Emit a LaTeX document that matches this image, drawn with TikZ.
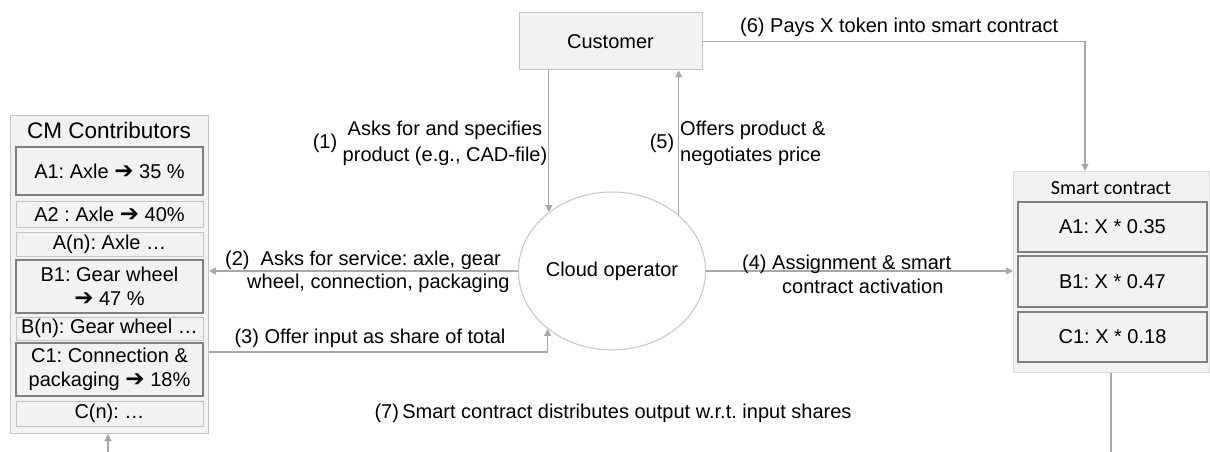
\documentclass[tikz,border=0pt]{standalone}
\usepackage{fontspec}
\setmainfont{Liberation Sans}
\newfontfamily\dejavu{DejaVu Sans}
\newfontfamily\carlito{Carlito}
\usetikzlibrary{arrows.meta,shapes.geometric}
\definecolor{boxfill}{HTML}{F2F2F2}
\definecolor{thinb}{HTML}{C4C4C4}
\definecolor{lightb}{HTML}{DADADA}
\definecolor{thickb}{HTML}{808080}
\definecolor{linec}{HTML}{A8A8A8}
\newcommand{\harr}{{\dejavu\fontsize{23}{23}\selectfont ➔}}
\tikzset{
  every node/.append style={execute at begin node=\frenchspacing},
  outerbox/.style={draw=thinb, fill=boxfill, line width=1pt, inner sep=0pt, anchor=north west},
  thickbox/.style={draw=thickb, fill=boxfill, line width=2pt, inner sep=0pt, align=center,
     font=\fontsize{20}{23.5}\selectfont},
  thinbox/.style={draw=thinb, fill=boxfill, line width=1pt, inner sep=0pt, align=center,
     font=\fontsize{20}{23.5}\selectfont},
  lbl/.style={font=\fontsize{20}{26}\selectfont, inner sep=0pt},
  arr/.style={draw=linec, line width=1.2pt, -{Triangle[length=7pt,width=7pt]}},
  plain/.style={draw=linec, line width=1.2pt},
}
\begin{document}
\frenchspacing
\begin{tikzpicture}[x=1pt,y=-1pt]
\useasboundingbox (0,0) rectangle (1210,452);
% CM Contributors
\node[outerbox, minimum width=198pt, minimum height=318pt] (cm) at (10,115) {};
\node[font=\fontsize{22.5}{26}\selectfont, inner sep=0pt] (cmt) at (109,130) {CM Contributors};
\node[thickbox, minimum width=187pt, minimum height=48pt] (a1) at (109.5,171) {A1: Axle \harr{} 35 \%};
\node[thinbox, minimum width=187pt, minimum height=26pt] (a2) at (109.5,214) {A2 : Axle \harr{} 40\%};
\node[thinbox, minimum width=187pt, minimum height=24pt] (an) at (109.5,244) {A(n): Axle …};
\node[thickbox, minimum width=187pt, minimum height=53pt] (b1) at (109.5,286.5) {B1: Gear wheel\\\harr{} 47 \%};
\node[thinbox, minimum width=187pt, minimum height=23pt] (bn) at (109.5,328.5) {B(n): Gear wheel …};
\node[thickbox, minimum width=187pt, minimum height=53pt] (c1) at (109.5,369.5) {C1: Connection \&\\packaging \harr{} 18\%};
\node[thinbox, minimum width=187pt, minimum height=25pt] (cn) at (109.5,413.5) {C(n): …};
% Customer
\node[draw=thinb, fill=boxfill, line width=1pt, minimum width=183pt, minimum height=57pt, inner sep=0pt,
  font=\fontsize{20}{24}\selectfont] (cust) at (610.5,41.5) {Customer};
% Cloud operator
\node[ellipse, draw=thinb, line width=1pt, minimum width=179pt, minimum height=158pt, inner sep=0pt,
  font=\fontsize{20}{24}\selectfont] (op) at (612,271) {Cloud operator};
% Smart contract
\node[draw=lightb, fill=boxfill, line width=1pt, minimum width=196pt, minimum height=201pt, inner sep=0pt, anchor=north west] (sc) at (1013,171) {};
\node[font=\carlito\fontsize{20}{24}\selectfont, inner sep=0pt] (sct) at (1111,188) {Smart contract};
\node[thickbox, minimum width=189pt, minimum height=50pt] (sa) at (1112.5,227) {A1: X * 0.35};
\node[thickbox, minimum width=189pt, minimum height=51pt] (sb) at (1112.5,281.5) {B1: X * 0.47};
\node[thickbox, minimum width=189pt, minimum height=50pt] (sc1) at (1112.5,337) {C1: X * 0.18};
% helper coordinates
\coordinate (y3) at (0,352);
\coordinate (x6) at (1085,0);
\coordinate (bl) at (108,452);
% connectors
\draw[arr] (cust.south -| op.137.4) -- (op.137.4);
\draw[arr] (op.40.7) -- (cust.south -| op.40.7);
\draw[arr] (op.west) -- (cm.east |- op.west);
\draw[arr] (cm.east |- y3) -| (op.222.6);
\draw[arr] (op.east) -- (sc.west |- op.east);
\draw[arr] (cust.east) -| (sc.north -| x6);
\draw[plain] (sc.south -| sct) -- (sct |- bl);
\draw[arr] (bl) -- (cm.south -| bl);
% labels
\node[lbl] (l1n) at (325,143) {(1)};
\node[lbl, align=center] (l1) at (445,143) {Asks for and specifies\\product (e.g., CAD-file)};
\node[lbl] (l5n) at (662,143) {(5)};
\node[lbl, align=left, anchor=west] (l5) at (680,143) {Offers product \&\\negotiates price};
\node[lbl, align=left, anchor=west, font=\fontsize{20}{23}\selectfont] (l2) at (225,271.5) {(2)\ \ Asks for service: axle, gear\\\hspace*{22pt}wheel, connection, packaging};
\node[lbl] (l3) at (370,338) {(3) Offer input as share of total};
\node[lbl, align=left, anchor=west, font=\fontsize{20}{24}\selectfont] (l4) at (742,274) {(4) Assignment \& smart\\\hspace*{40pt}contract activation};
\node[lbl, anchor=west] (l6) at (740,27) {(6) Pays X token into smart contract};
\node[lbl] (l7) at (613,413) {(7)\,Smart contract distributes output w.r.t. input shares};
\end{tikzpicture}
\end{document}
